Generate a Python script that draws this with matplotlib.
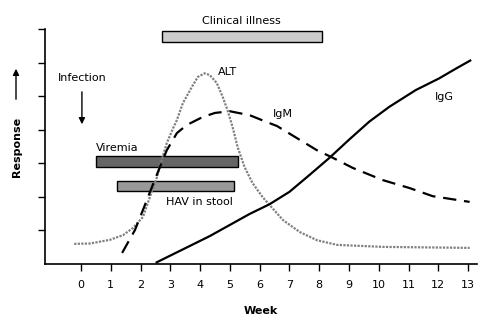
import matplotlib
matplotlib.use("Agg")
import matplotlib.pyplot as plt

# weeks after exposure
week_ticks = list(range(0, 14))

alt_weeks = [-0.23, 0.30, 0.97, 1.41, 1.74, 2.08, 2.31, 2.55, 2.71, 2.88, 3.08, 3.22,
             3.42, 3.72, 3.92, 4.15, 4.32, 4.56, 4.76, 4.92, 5.09, 5.26, 5.49, 5.76,
             6.10, 6.33, 6.78, 7.35, 7.92, 8.59, 10.13, 13.05]
alt_resp = [0.60, 0.61, 0.72, 0.86, 1.07, 1.40, 1.99, 2.59, 3.10, 3.60, 4.02, 4.29,
            4.79, 5.27, 5.57, 5.68, 5.63, 5.39, 4.97, 4.58, 4.08, 3.48, 2.89, 2.41,
            1.99, 1.76, 1.31, 0.95, 0.71, 0.57, 0.51, 0.48]

igm_weeks = [1.38, 1.81, 2.08, 2.38, 2.65, 2.88, 3.22, 3.55, 4.09, 4.50, 5.00, 5.67,
             6.23, 6.58, 7.25, 7.92, 8.42, 9.13, 10.13, 11.04, 11.81, 13.05]
igm_resp = [0.33, 1.01, 1.61, 2.29, 2.89, 3.39, 3.90, 4.14, 4.38, 4.50, 4.55, 4.43,
            4.23, 4.11, 3.75, 3.39, 3.18, 2.86, 2.50, 2.26, 2.02, 1.85]

igg_weeks = [2.54, 3.43, 4.32, 4.99, 5.66, 6.33, 7.00, 7.67, 8.34, 9.01, 9.68,
             10.35, 11.24, 12.03, 12.59, 13.07]
igg_resp = [0.05, 0.44, 0.83, 1.16, 1.49, 1.78, 2.15, 2.65, 3.16, 3.71, 4.24,
            4.68, 5.18, 5.53, 5.82, 6.06]

# phase bars: name, start week, end week, level
bar_names = ["Clinical illness", "Viremia", "HAV in stool"]
bar_start = [2.72, 0.50, 1.21]
bar_end = [8.09, 5.27, 5.13]
bar_level = [6.77, 3.05, 2.32]
bar_colors = ["#cccccc", "#666666", "#999999"]

fig = plt.figure(figsize=(4.87, 3.32), dpi=100)
ax = fig.add_axes([0.0924, 0.2048, 0.8866, 0.7079])

widths = [e - s for s, e in zip(bar_start, bar_end)]
ax.barh(bar_level, widths, left=bar_start, height=0.32, color=bar_colors,
        edgecolor="black", linewidth=1.0, zorder=2)

ax.plot(alt_weeks, alt_resp, color="#808080", linestyle=(0, (1, 0.6)), linewidth=1.6, zorder=3)
ax.plot(igm_weeks, igm_resp, color="black", linestyle=(0, (6, 3.5)), linewidth=1.6, zorder=3)
ax.plot(igg_weeks, igg_resp, color="black", linewidth=1.6, zorder=3)

fs = 8
ax.text(5.39, 7.23, "Clinical illness", ha="center", va="center", fontsize=fs, clip_on=False)
ax.text(0.50, 3.45, "Viremia", ha="left", va="center", fontsize=fs)
ax.text(3.99, 1.85, "HAV in stool", ha="center", va="center", fontsize=fs)
ax.text(4.92, 5.71, "ALT", ha="center", va="center", fontsize=fs)
ax.text(6.77, 4.46, "IgM", ha="center", va="center", fontsize=fs)
ax.text(12.19, 4.97, "IgG", ha="center", va="center", fontsize=fs)
ax.text(0.03, 5.54, "Infection", ha="center", va="center", fontsize=fs)
ax.annotate("", xy=(0.03, 4.08), xytext=(0.03, 5.21),
            arrowprops=dict(arrowstyle="-|>", color="black", lw=1.0, mutation_scale=9))

ax.set_xlim(-1.21, 13.29)
ax.set_ylim(0, 7)
ax.set_xticks(week_ticks)
ax.set_yticks(range(1, 8))
ax.set_yticklabels([])
ax.tick_params(axis="both", direction="out", length=5, width=1.0, labelsize=fs, pad=6.5)
for side in ["top", "right"]:
    ax.spines[side].set_visible(False)
for side in ["left", "bottom"]:
    ax.spines[side].set_linewidth(1.2)

ax.set_xlabel("Week", fontsize=fs, fontweight="bold")
ax.xaxis.set_label_coords(0.5, -0.177)

fig.text(17 / 487, 0.557, "Response", rotation=90, ha="center", va="center",
         fontsize=fs, fontweight="bold")
fig.patches.append(matplotlib.patches.FancyArrowPatch(
    (16 / 487, 1 - 102 / 332), (16 / 487, 1 - 66 / 332), transform=fig.transFigure,
    arrowstyle="-|>", mutation_scale=9, color="black", lw=1.0))

fig.savefig("out.png", dpi=100)
